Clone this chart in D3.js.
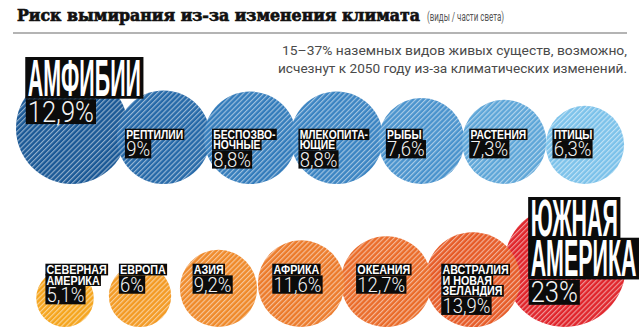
<!DOCTYPE html>
<html><head><meta charset="utf-8">
<script src="https://cdn.jsdelivr.net/npm/d3@7"></script>
<style>html,body{margin:0;padding:0;background:#fff;}svg{display:block;}</style>
</head><body>
<svg id="c" width="640" height="334"></svg>
<script>
// ---- data ----
const speciesNames = ["АМФИБИИ", "РЕПТИЛИИ", "БЕСПОЗВО-|НОЧНЫЕ", "МЛЕКОПИТА-|ЮЩИЕ", "РЫБЫ", "РАСТЕНИЯ", "ПТИЦЫ"];
const speciesValues = [12.9, 9, 8.8, 8.8, 7.6, 7.3, 6.3];
const regionNames = ["СЕВЕРНАЯ|АМЕРИКА", "ЕВРОПА", "АЗИЯ", "АФРИКА", "ОКЕАНИЯ", "АВСТРАЛИЯ|И НОВАЯ|ЗЕЛАНДИЯ", "ЮЖНАЯ|АМЕРИКА"];
const regionValues = [5.1, 6, 9.2, 11.6, 12.7, 13.9, 23];
const titleText = "Риск вымирания из-за изменения климата";
const subtitleText = "(виды / части света)";
const noteLines = ["15–37% наземных видов живых существ, возможно,", "исчезнут к 2050 году из-за климатических изменений."];

// ---- styles ----
const speciesColors = ["#1b5996", "#2669a8", "#347cbb", "#3b84c2", "#4a93cd", "#5ea6d8", "#7cc2ea"];
const regionColors = ["#f5a51e", "#f39a24", "#ef8a2b", "#ec7b2b", "#ea6c2a", "#e65b27", "#e0252b"];

const W = 640, H = 334;
const svg = d3.select("#c");
const fmtLocale = d3.formatLocale({decimal: ",", thousands: " ", grouping: [3], currency: ["", ""]});
const fmt = v => fmtLocale.format(".3~r")(v) + "%";

const defs = svg.append("defs");
const pat = defs.append("pattern").attr("id", "stripes")
  .attr("patternUnits", "userSpaceOnUse").attr("width", 3.6).attr("height", 10)
  .attr("patternTransform", "rotate(45)");
pat.append("line").attr("x1", 0.6).attr("x2", 0.6).attr("y1", 0).attr("y2", 10)
  .attr("stroke", "#fff").attr("stroke-width", 1.1);

// title
svg.append("text").attr("x", 17).attr("y", 21)
  .attr("font-family", "'DejaVu Serif', serif").attr("font-weight", "bold")
  .attr("font-size", 16).attr("fill", "#111").attr("stroke", "#111").attr("stroke-width", 0.7)
  .attr("textLength", 403).attr("lengthAdjust", "spacingAndGlyphs")
  .text(titleText);
svg.append("text").attr("x", 427).attr("y", 21)
  .attr("font-family", "Roboto, sans-serif").attr("font-weight", 400)
  .attr("font-size", 13).attr("fill", "#555")
  .attr("textLength", 77).attr("lengthAdjust", "spacingAndGlyphs")
  .text(subtitleText);
svg.append("line").attr("x1", 13).attr("x2", 627).attr("y1", 33).attr("y2", 33)
  .attr("stroke", "#b4b4b4").attr("stroke-width", 2);
const noteW = [345, 349];
noteLines.forEach((t, i) => {
  svg.append("text").attr("x", 627).attr("y", 55 + i * 18).attr("text-anchor", "end")
    .attr("font-family", "Roboto, sans-serif").attr("font-weight", 400)
    .attr("font-size", 12.5).attr("fill", "#4a4a4a")
    .attr("textLength", noteW[i]).attr("lengthAdjust", "spacingAndGlyphs")
    .text(t);
});

const circlesLayer = svg.append("g");
const labelsLayer = svg.append("g");

const nameFont = "'Liberation Sans', Arial, sans-serif";
const pctFont = "Roboto, sans-serif";
const CAP = 0.72;

function drawLine(g, x, top, txt, st) {
  const grp = g.append("g");
  const t = grp.append("text").attr("x", 0).attr("y", 0)
    .attr("font-family", st.family).attr("font-weight", st.weight)
    .attr("font-size", st.size).attr("fill", st.fill).text(txt);
  const w = t.node().getComputedTextLength();
  const cap = st.size * CAP;
  const baseline = top + cap;
  grp.attr("transform", `translate(${x},${baseline}) scale(${st.sx},1)`);
  grp.insert("rect", "text")
    .attr("x", -st.pad / st.sx).attr("y", -cap - st.padT)
    .attr("width", w + 2 * st.pad / st.sx).attr("height", cap + st.padT + st.padB)
    .attr("fill", "#0b0b0b");
  return baseline;
}

function drawRow(names, values, colors, o) {
  const n = values.length;
  const r = d3.scaleSqrt().domain([0, d3.max(values)]).range([0, o.rMax]);
  const pt = d3.scalePoint().domain(d3.range(n)).range([o.x0, o.x1]);
  const packed = [o.x0];
  for (let i = 1; i < n; i++) packed.push(packed[i - 1] + r(values[i - 1]) + r(values[i]) - o.overlap);
  const items = values.map((v, i) => ({
    name: names[i], v, color: colors[i], r: r(v),
    cx: pt(i) * (1 - o.blend) + packed[i] * o.blend,
    big: v === d3.max(values)
  }));
  items.forEach(d => d.cy = o.bottom - d.r);
  const sorted = items.slice().sort((a, b) => b.r - a.r);
  const cg = circlesLayer.selectAll(null).data(sorted).enter().append("g");
  cg.append("circle").attr("cx", d => d.cx).attr("cy", d => d.cy).attr("r", d => d.r).attr("fill", d => d.color);
  cg.append("circle").attr("cx", d => d.cx).attr("cy", d => d.cy).attr("r", d => d.r)
    .attr("fill", "url(#stripes)").attr("opacity", 0.55);

  items.forEach(d => {
    const g = labelsLayer.append("g");
    const lines = d.name.split("|");
    const x = d.cx - (d.big ? o.bigK : o.k) * d.r;
    const ns = d.big ? o.bigName : o.name;
    const ps = d.big ? o.bigPct : o.pct;
    let top = d.big ? o.bigTop : o.top;
    lines.forEach(l => {
      const b = drawLine(g, x, top, l, ns);
      top = b + ns.gap;
    });
    drawLine(g, x, top + ps.pre, fmt(d.v), ps);
  });
}

const smallName = {family: nameFont, weight: "bold", size: 12, fill: "#fff", sx: 0.86, pad: 1.2, padT: 1.3, padB: 1.4, gap: 1.6};
const smallPct = {family: pctFont, weight: 300, size: 21, fill: "#f4f4f4", sx: 0.88, pad: 1.2, padT: 1.2, padB: 2, pre: 1};
const bigName = {family: nameFont, weight: "bold", size: 51, fill: "#fff", sx: 0.42, pad: 2.5, padT: 2, padB: 3, gap: 4};
const bigPct = {family: pctFont, weight: 300, size: 29, fill: "#f4f4f4", sx: 0.88, pad: 2, padT: 1.5, padB: 2.5, pre: 1};

drawRow(speciesNames, speciesValues, speciesColors, {
  rMax: 56, x0: 72, x1: 584, blend: 0.5, overlap: 5, bottom: 184,
  k: 0.8, bigK: 0.79, top: 130, bigTop: 59,
  name: smallName, pct: smallPct, bigName, bigPct
});
drawRow(regionNames, regionValues, regionColors, {
  rMax: 61, x0: 65, x1: 564, blend: 0.35, overlap: 0, bottom: 327,
  k: 0.64, bigK: 0.56, top: 265, bigTop: 199,
  name: Object.assign({}, smallName, {size: 12.5}), pct: smallPct, bigName, bigPct
});
</script>
</body></html>
